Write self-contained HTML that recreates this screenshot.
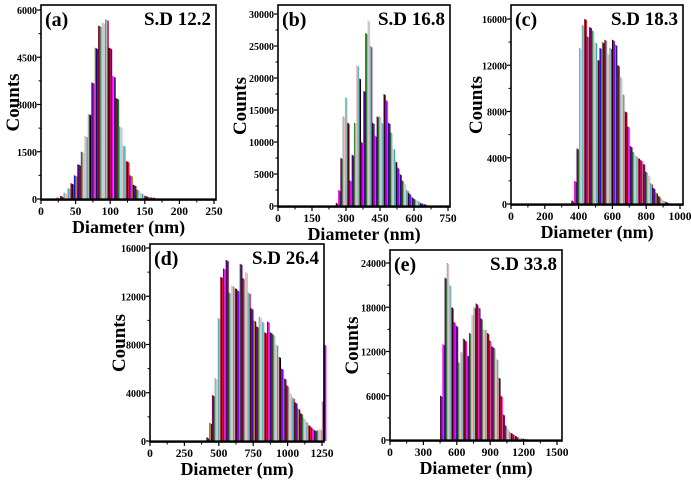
<!DOCTYPE html>
<html><head><meta charset="utf-8">
<style>
html,body{margin:0;padding:0;background:#fff;}
svg{display:block;}
text{font-family:"Liberation Serif",serif;font-weight:bold;fill:#000;}
</style></head>
<body>
<svg id="fig" width="691" height="480" viewBox="0 0 691 480"></svg>
<script>
// ---- data ----
const aBins=[20,25,30,35,40,45,50,55,60,65,70,75,80,85,90,95,100,105,110,115,120,125,130,135,140,145,150,155,160,165,170,175,180];
const aCounts=[20,50,100,200,350,500,750,1100,1500,2000,2700,3700,4800,5500,5600,5700,4800,3900,3200,2300,1700,1200,750,450,300,200,120,80,60,40,30,20,10];
const bBins=[260,270,280,290,300,310,320,330,340,350,360,370,380,390,400,410,420,430,440,450,460,470,480,490,500,510,520,530,540,550,560,570,580,590,600,610,620,630,640,650,660,670,680,690];
const bCounts=[500,2500,7500,14000,17000,13000,4000,8000,13000,22000,20000,10000,18000,27000,29000,25000,13000,11000,14000,14000,13000,17500,16500,13000,11500,9000,7000,6000,5000,4000,3500,2500,2000,1500,1200,1000,800,500,400,300,200,100,80,50];
const cBins=[365,380,395,410,425,440,455,470,485,500,515,530,545,560,575,590,605,620,635,650,665,680,695,710,725,740,755,770,785,800,815,830,845,860,875,890,905,920,935,950];
const cCounts=[300,2000,4800,13500,15500,16000,14500,15300,15000,14000,12500,13500,14000,14200,13000,13500,14200,13800,12000,11000,9500,8000,6700,5000,4500,4200,4000,3800,3500,2800,2500,1800,1400,1000,700,500,300,200,100,60];
const dBins=[420,440,460,480,500,520,540,560,580,600,620,640,660,680,700,720,740,760,780,800,820,840,860,880,900,920,940,960,980,1000,1020,1040,1060,1080,1100,1120,1140,1160,1180,1200,1220,1240,1258,1270];
const dCounts=[300,1500,3800,5200,10200,13600,14300,15000,12300,12900,12700,12500,14700,13500,14000,12300,11000,10000,9500,10300,9900,9000,9900,9000,8800,8000,7000,6000,5200,4600,4000,3600,3200,2700,2300,1900,1600,1300,1100,900,900,1000,3300,8000];
const eBins=[460,480,500,520,540,560,580,600,620,640,660,680,700,720,740,760,780,800,820,840,860,880,900,920,940,960,980,1000,1020,1040,1060,1080,1100,1120,1140,1160,1180,1200,1220,1240,1260];
const eCounts=[6000,13000,22000,24000,21000,18000,16000,15500,10500,12000,13800,13500,11500,14500,17000,18000,18500,18000,16500,15000,15000,14500,13500,12700,12500,11000,8500,6000,3500,2000,1500,1100,900,700,500,400,300,200,150,100,50];
const aXTicks=[0,50,100,150,200,250], aYTicks=[0,1500,3000,4500,6000];
const bXTicks=[0,150,300,450,600,750], bYTicks=[0,5000,10000,15000,20000,25000,30000];
const cXTicks=[0,200,400,600,800,1000], cYTicks=[0,4000,8000,12000,16000];
const dXTicks=[0,250,500,750,1000,1250], dYTicks=[0,4000,8000,12000,16000];
const eXTicks=[0,300,600,900,1200,1500], eYTicks=[0,6000,12000,18000,24000];

const colors=["#000000","#e8101a","#1010e8","#ff00ff","#9a9a10","#0a0a80","#800080","#800020","#108010","#909090","#a8d8f0","#f0b8c0","#d8c8b8","#20b0b0","#c0c0c0","#b01050"];
const NS="http://www.w3.org/2000/svg";
const svg=document.getElementById('fig');
function mk(tag,attrs,parent){const e=document.createElementNS(NS,tag);for(const k in attrs)e.setAttribute(k,attrs[k]);(parent||svg).appendChild(e);return e;}

const panels=[
 {id:'a',bins:aBins,counts:aCounts,xt:aXTicks,yt:aYTicks,bw:5,L:41,R:216,T:5,B:200,x0px:41,x1px:214,xmax:250,y0px:199,y1px:10,ymax:6000,sd:'S.D 12.2',cx:13},
 {id:'b',bins:bBins,counts:bCounts,xt:bXTicks,yt:bYTicks,bw:10,L:278,R:450,T:5,B:207,x0px:278,x1px:448,xmax:750,y0px:206,y1px:14,ymax:30000,sd:'S.D 16.8',cx:240},
 {id:'c',bins:cBins,counts:cCounts,xt:cXTicks,yt:cYTicks,bw:15,L:511,R:683,T:5,B:205,x0px:511,x1px:680,xmax:1000,y0px:204,y1px:19,ymax:16000,sd:'S.D 18.3',cx:476},
 {id:'d',bins:dBins,counts:dCounts,xt:dXTicks,yt:dYTicks,bw:20,L:150,R:324,T:244,B:442,x0px:150,x1px:322,xmax:1250,y0px:441,y1px:248,ymax:16000,sd:'S.D 26.4',cx:119},
 {id:'e',bins:eBins,counts:eCounts,xt:eXTicks,yt:eYTicks,bw:20,L:390,R:562,T:250,B:441,x0px:390,x1px:557,xmax:1500,y0px:440,y1px:263,ymax:24000,sd:'S.D 33.8',cx:352}
];

panels.forEach(p=>{
  const g=mk('g',{});
  
  
  const X=v=>p.x0px+(v/p.xmax)*(p.x1px-p.x0px);
  const Y=v=>p.y0px-(v/p.ymax)*(p.y0px-p.y1px);
  const bars=mk('g',{},g);
  
  
  const w=X(p.bw)-X(0);
  p.bins.forEach((b,i)=>{
    const x=X(b)-w/2, y=Y(p.counts[i]);
    const sub=3;
    for(let s=0;s<sub;s++){
      const r=mk('rect',{x:x+s*w/sub,y:y+s*0.6,width:w/sub+0.3,height:Math.max(0,p.y0px-y-s*0.6),fill:colors[(i*sub+s)%colors.length]},bars);
      
      
    }
  });
  mk('line',{x1:p.L,x2:p.R,y1:p.y0px,y2:p.y0px,stroke:'#000','stroke-width':1.2},g);
  const fr=mk('rect',{x:p.L,y:p.T,width:p.R-p.L,height:p.B-p.T,fill:'none',stroke:'#000','stroke-width':1.6},g);
  
  
  p.xt.forEach((t,i)=>{
    const x=X(t);
    mk('line',{x1:x,x2:x,y1:p.B,y2:p.B+4,stroke:'#000','stroke-width':1.2},g);
    if(i<p.xt.length-1){const xm=X(t+(p.xt[1]-p.xt[0])/2);mk('line',{x1:xm,x2:xm,y1:p.B,y2:p.B+2.5,stroke:'#000','stroke-width':1},g);}
    const tx=mk('text',{x:x,y:p.B+15,'text-anchor':'middle','font-size':11.5},g);
    tx.textContent=t;
    
    
  });
  p.yt.forEach((t,i)=>{
    const y=Y(t);
    mk('line',{x1:p.L-4,x2:p.L,y1:y,y2:y,stroke:'#000','stroke-width':1.2},g);
    if(i<p.yt.length-1){const ym=Y(t+(p.yt[1]-p.yt[0])/2);mk('line',{x1:p.L-2.5,x2:p.L,y1:ym,y2:ym,stroke:'#000','stroke-width':1},g);}
    const ty=mk('text',{x:p.L-4,y:y+4,'text-anchor':'end','font-size':10},g);
    ty.textContent=t;
    
    
  });
  const xtit=mk('text',{x:(p.L+p.R)/2,y:p.B+33,'text-anchor':'middle','font-size':18},g);
  xtit.textContent='Diameter (nm)';
  
  
  const cy=(p.T+p.B)/2;
  const ytit=mk('text',{x:p.cx,y:cy,'text-anchor':'middle','font-size':19,transform:'rotate(-90 '+p.cx+' '+cy+')',dy:6},g);
  ytit.textContent='Counts';
  
  
  const pl=mk('text',{x:p.L+4,y:p.T+21,'font-size':20},g);
  pl.textContent='('+p.id+')';
  
  
  const sd=mk('text',{x:p.R-5,y:p.T+20,'text-anchor':'end','font-size':19},g);
  sd.textContent=p.sd;
  
  
});
</script>
</body></html>
